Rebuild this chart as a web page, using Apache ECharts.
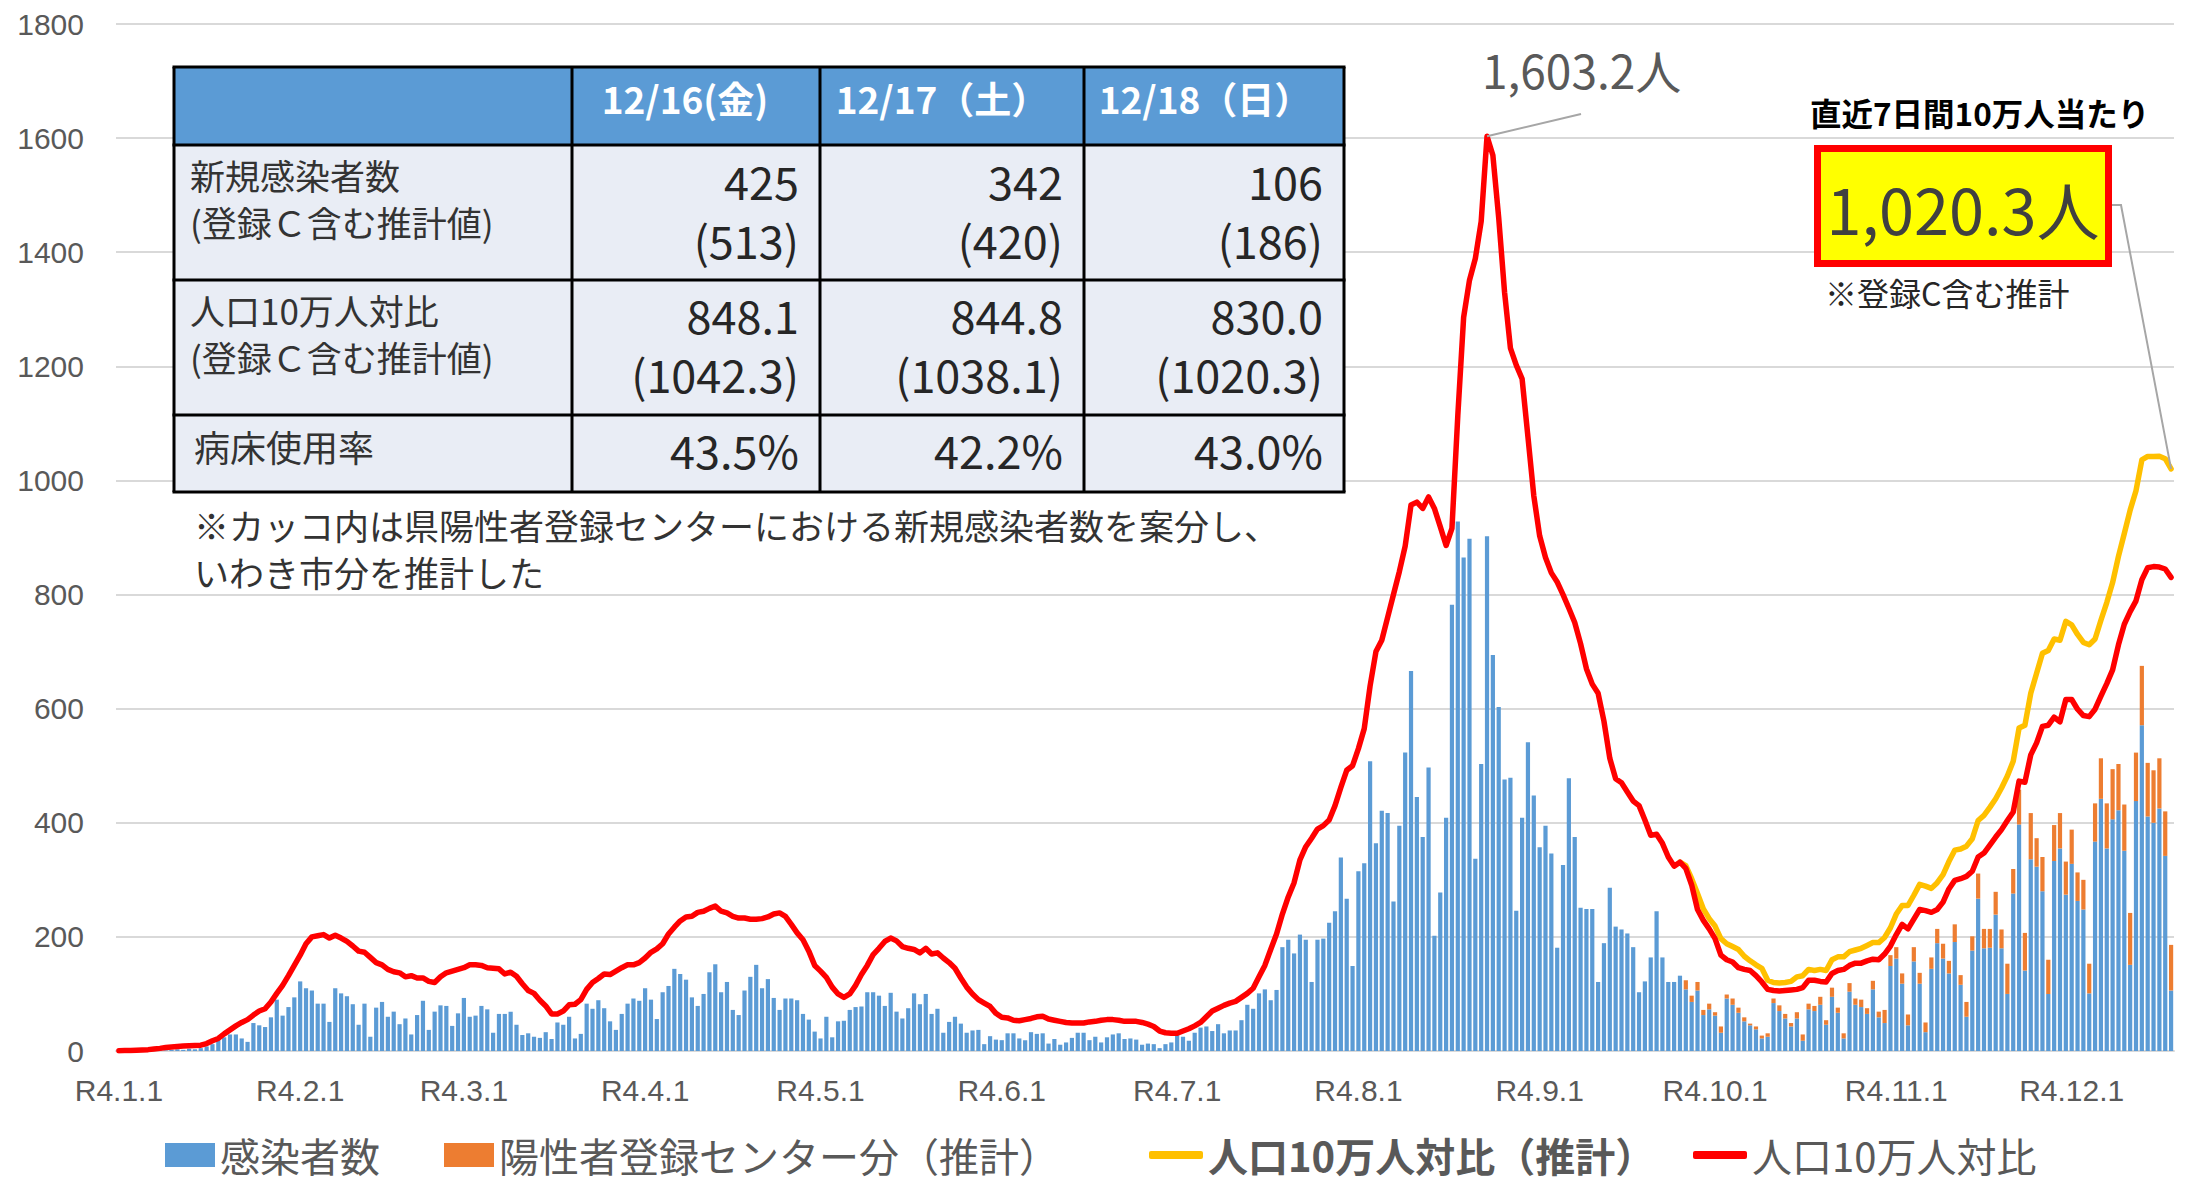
<!DOCTYPE html>
<html>
<head>
<meta charset="utf-8">
<title>いわき市 新規感染者数の推移</title>
<script src="https://cdn.jsdelivr.net/npm/echarts@6/dist/echarts.min.js"></script>
<style>
  html, body { margin: 0; padding: 0; background: #fff; }
  #chart { width: 2188px; height: 1185px; }
</style>
</head>
<body>
<div id="chart"></div>
<script>
// 月ごとの日数 (R4.1.1 〜 R4.12.18)
const monthDays = [31, 28, 31, 30, 31, 30, 31, 31, 30, 31, 30, 18];
// x軸に表示する月初ラベル
const monthLabels = ['R4.1.1', 'R4.2.1', 'R4.3.1', 'R4.4.1', 'R4.5.1', 'R4.6.1',
                     'R4.7.1', 'R4.8.1', 'R4.9.1', 'R4.10.1', 'R4.11.1', 'R4.12.1'];

// 感染者数 (日別・月ごと)
const blueJan = [0,1,0,1,0,1,2,1,1,2,3,2,4,3,5,8,12,19,24,29,29,22,16,49,45,42,59,90,62,77,94];
const blueFeb = [122,110,106,83,83,51,110,101,96,82,46,83,25,76,86,60,69,47,57,29,63,88,37,69,80,79,44,66];
const blueMar = [93,60,62,79,73,32,65,65,69,46,28,31,25,23,33,21,50,46,60,22,30,83,74,89,75,52,37,65,83,92,88];
const blueApr = [110,90,56,103,114,144,135,125,94,79,100,138,152,103,121,72,63,106,130,151,110,126,93,72,92,92,89,65,55,34];
const blueMay = [22,60,24,52,53,72,77,78,103,103,97,79,102,69,57,75,101,82,100,65,74,32,51,60,48,32,36,37,12,26,20];
const blueJun = [19,31,31,22,19,33,30,31,13,21,11,15,23,32,32,19,25,15,24,29,31,21,22,20,11,13,12,5,12,15];
const blueJul = [28,25,18,32,41,43,35,47,31,36,36,54,81,74,101,108,89,107,182,195,171,204,195,121,195,197,225,245,339,267,149];
const blueAug = [315,329,508,364,421,417,262,395,523,666,445,375,497,202,278,409,782,928,865,898,337,503,902,694,603,476,479,246,409,541,448];
const blueSep = [357,395,346,181,326,478,375,251,249,249,121,189,286,218,213,206,182,103,122,164,245,164,121,121,132,108,86,106,63,73];
const blueOct = [62,32,92,81,67,52,45,38,22,25,84,70,57,43,57,18,73,70,81,46,95,67,22,104,81,77,65,108,59,49,149];
const blueNov = [162,118,45,157,118,33,144,189,162,136,191,116,60,176,267,180,181,239,180,100,276,397,141,336,323,280,100,333,355,274];
const blueDec = [328,263,248,101,367,442,355,406,422,351,151,438,571,411,400,425,342,106];

// 陽性者登録センター分（推計） 9/26 から
const orangeSep = [16,11,15,9,10];
const orangeOct = [6,11,7,11,9,7,3,5,5,6,8,10,8,6,11,11,10,9,14,8,16,9,9,15,11,13,10,15,10,23,19];
const orangeNov = [20,18,19,25,19,17,20,25,26,22,31,17,26,25,44,34,33,40,33,53,43,61,66,81,50,60,60,63,62,58];
const orangeDec = [60,50,52,52,67,71,79,88,81,81,91,85,104,94,92,88,78,80];

// 人口10万人対比 (直近7日間)
const redJan = [0.4,0.7,1.0,1.4,1.8,2.4,3.5,4.6,6.0,7.0,8.0,8.8,9.4,9.8,10.2,13,18,22,30,37,44,50,55,63,70,74,86,101,115,132,150];
const redFeb = [168,188,200,202,204,198,203,198,192,184,175,173,164,155,151,143,139,137,130,132,128,128,122,120,130,137,140,143];
const redMar = [146,151,151,150,146,145,144,135,138,131,118,106,101,89,79,65,65,70,81,82,90,108,120,127,135,134,140,146,151,151,155];
const redApr = [163,173,179,188,205,217,228,235,236,243,245,250,254,245,242,236,233,233,231,231,232,235,240,242,236,222,207,195,175,150];
const redMay = [140,129,112,100,94,100,115,134,150,169,180,192,198,193,183,180,178,172,180,170,172,163,155,145,128,112,100,90,84,78,66];
const redJun = [59,58,54,53,55,57,60,61,56,54,52,50,49,49,49,51,52,54,55,55,54,52,52,52,50,47,43,35,32,31];
const redJul = [31,35,39,44,50,60,70,75,80,84,87,94,101,110,130,150,178,205,240,270,295,335,358,373,389,395,405,430,462,492,500];
const redAug = [530,565,640,700,720,760,800,840,885,957,962,951,971,951,919,886,916,1113,1286,1351,1389,1454,1603.2,1570,1460,1330,1232,1202,1178,1076,973];
const redSep = [903,865,838,822,800,776,751,714,670,643,627,578,513,477,470,454,438,430,405,378,380,364,340,324,331,320,291,248,229,214];
const redOct = [197,168,160,156,146,143,141,132,121,108,106,105,106,107,108,111,124,124,122,121,136,141,143,150,154,154,158,161,160,170,184];
const redNov = [204,222,214,231,248,246,243,248,261,284,299,302,306,315,340,347,361,375,388,404,419,473,471,519,540,569,571,585,577,616];
const redDec = [616,599,588,586,599,622,644,668,712,748,770,789,826,847,849,848.1,844.8,830.0];

// 人口10万人対比（推計） 9/25 から
const yellowSep = [331,325,302,276,249,232];
const yellowOct = [219,197,188,183,178,166,158,151,145,124,120,119,120,122,130,132,143,141,143,141,160,165,165,174,177,180,185,190,190,199,216];
const yellowNov = [240,255,255,273,292,289,285,295,309,332,352,354,359,372,404,413,427,442,461,482,508,566,571,627,662,697,702,722,720,753];
const yellowDec = [747,730,716,712,722,755,786,821,867,907,948,982,1036,1042,1042,1042.3,1038.1,1020.3];

// 表の値
const tableDates = ['12/16(金)', '12/17（土）', '12/18（日）'];
const bedRate = [43.5, 42.2, 43.0];

// ---- 系列を組み立て ----
const categories = [];
monthDays.forEach((n, m) => {
  for (let d = 1; d <= n; d++) categories.push(`R4.${m + 1}.${d}`);
});
const N = categories.length;
const padFront = arr => new Array(N - arr.length).fill(null).concat(arr);

const blue = [].concat(blueJan, blueFeb, blueMar, blueApr, blueMay, blueJun,
                       blueJul, blueAug, blueSep, blueOct, blueNov, blueDec);
const red = [].concat(redJan, redFeb, redMar, redApr, redMay, redJun,
                      redJul, redAug, redSep, redOct, redNov, redDec);
const orange = padFront([].concat(orangeSep, orangeOct, orangeNov, orangeDec));
const yellow = padFront([].concat(yellowSep, yellowOct, yellowNov, yellowDec));

const JP = '"Noto Sans CJK JP", "Noto Sans", sans-serif';
const C_BLUE = '#5B9BD5', C_ORANGE = '#ED7D31', C_YELLOW = '#FFC000', C_RED = '#FF0000';

// 凡例は項目ごとに位置を合わせる
const legendBase = {
  top: 1130, itemGap: 0, padding: [5, 5, 0, 5],
  textStyle: { fontSize: 40, lineHeight: 40, color: '#595959', fontFamily: JP }
};
const barKey = { itemWidth: 50, itemHeight: 24, icon: 'rect' };
const lineKey = { itemWidth: 54, itemHeight: 8, icon: 'roundRect' };

const chart = echarts.init(document.getElementById('chart'), null, { renderer: 'svg' });

chart.setOption({
  animation: false,
  backgroundColor: '#fff',
  grid: { left: 116, right: 14, top: 24, bottom: 134, containLabel: false },
  legend: [
    Object.assign({}, legendBase, barKey, { left: 160, data: ['感染者数'] }),
    Object.assign({}, legendBase, barKey, { left: 439, data: ['陽性者登録センター分（推計）'] }),
    Object.assign({}, legendBase, lineKey, { left: 1144, data: [{ name: '人口10万人対比（推計）', textStyle: { fontWeight: 'bold' } }] }),
    Object.assign({}, legendBase, lineKey, { left: 1688, data: ['人口10万人対比'] })
  ],
  xAxis: {
    type: 'category',
    data: categories,
    boundaryGap: true,
    axisLine: { lineStyle: { color: '#D9D9D9', width: 2 } },
    axisTick: { show: false },
    axisLabel: {
      interval: (idx, val) => monthLabels.includes(val),
      color: '#595959', fontSize: 30, fontFamily: '"Liberation Sans", sans-serif',
      margin: 24
    }
  },
  yAxis: {
    type: 'value',
    min: 0, max: 1800, interval: 200,
    axisLine: { show: false },
    axisTick: { show: false },
    axisLabel: {
      formatter: v => String(v),
      color: '#595959', fontSize: 30, fontFamily: '"Liberation Sans", sans-serif', margin: 32
    },
    splitLine: { lineStyle: { color: '#D9D9D9', width: 2 } }
  },
  series: [
    {
      name: '感染者数', type: 'bar', stack: 'cases', data: blue,
      itemStyle: { color: C_BLUE }, barCategoryGap: '28%'
    },
    {
      name: '陽性者登録センター分（推計）', type: 'bar', stack: 'cases', data: orange,
      itemStyle: { color: C_ORANGE }
    },
    {
      name: '人口10万人対比（推計）', type: 'line', data: yellow,
      symbol: 'none', showSymbol: false, connectNulls: false,
      lineStyle: { color: C_YELLOW, width: 5.5, cap: 'round', join: 'round' },
      itemStyle: { color: C_YELLOW }
    },
    {
      name: '人口10万人対比', type: 'line', data: red,
      symbol: 'none', showSymbol: false,
      lineStyle: { color: C_RED, width: 5.5, cap: 'round', join: 'round' },
      itemStyle: { color: C_RED }
    }
  ]
});

// ---- 表と注記 ----
const fmt1 = v => v.toLocaleString('en-US', { minimumFractionDigits: 1, maximumFractionDigits: 1 });
// 2行のテキストは1つの要素にまとめて行間で調整する
const txt = (text, x, y, opt) => {
  const style = Object.assign({
    text, fill: '#333', fontSize: 35, fontFamily: JP,
    textAlign: 'left', align: 'left', textVerticalAlign: 'middle', verticalAlign: 'middle'
  }, opt || {});
  if (!style.lineHeight) style.lineHeight = style.fontSize;
  return { type: 'text', x, y, z: 110, style };
};
const hline = (x1, x2, y) => ({ type: 'line', z: 108, shape: { x1, y1: y, x2, y2: y }, style: { stroke: '#000', lineWidth: 3 } });
const vline = (x, y1, y2) => ({ type: 'line', z: 108, shape: { x1: x, y1, x2: x, y2 }, style: { stroke: '#000', lineWidth: 3 } });

const colX = [174, 572, 820, 1084, 1344];
const rowY = [67, 145, 280, 415, 492];
const headCenter = [685, 942, 1205];
const numRight = [799, 1063, 1323];

const last3 = [N - 3, N - 2, N - 1];
const g = [];
g.push({ type: 'rect', z: 105, shape: { x: colX[0], y: rowY[0], width: colX[4] - colX[0], height: rowY[1] - rowY[0] }, style: { fill: C_BLUE } });
g.push({ type: 'rect', z: 105, shape: { x: colX[0], y: rowY[1], width: colX[4] - colX[0], height: rowY[4] - rowY[1] }, style: { fill: '#E9EDF5' } });
rowY.forEach(y => g.push(hline(colX[0] - 1.5, colX[4] + 1.5, y)));
colX.forEach(x => g.push(vline(x, rowY[0], rowY[4])));

tableDates.forEach((t, i) => g.push(txt(t, headCenter[i], 98, { fill: '#fff', fontWeight: 'bold', fontSize: 37, textAlign: 'center', align: 'center' })));

g.push(txt('新規感染者数\n(登録Ｃ含む推計値)', 190, 198, { lineHeight: 47 }));
g.push(txt('人口10万人対比\n(登録Ｃ含む推計値)', 190, 333, { lineHeight: 47 }));
g.push(txt('病床使用率', 194, 446, { fontSize: 36 }));

const numStyle = { fontSize: 45, lineHeight: 59, textAlign: 'right', align: 'right', fill: '#262626' };
last3.forEach((d, i) => {
  const total = blue[d] + (orange[d] || 0);
  g.push(txt(`${blue[d]}\n(${total})`, numRight[i], 210, numStyle));
  g.push(txt(`${red[d].toFixed(1)}\n(${yellow[d].toFixed(1)})`, numRight[i], 344, numStyle));
  g.push(txt(`${bedRate[i].toFixed(1)}%`, numRight[i], 449, { fontSize: 45, textAlign: 'right', align: 'right', fill: '#262626' }));
});

g.push(txt('※カッコ内は県陽性者登録センターにおける新規感染者数を案分し、\nいわき市分を推計した', 194, 548, { lineHeight: 47 }));

// ピーク注記
let peakIdx = 0;
red.forEach((v, i) => { if (v > red[peakIdx]) peakIdx = i; });
const peakPt = chart.convertToPixel({ gridIndex: 0 }, [peakIdx, red[peakIdx]]);
g.push({ type: 'line', z: 100, shape: { x1: peakPt[0], y1: peakPt[1], x2: 1581, y2: 114 }, style: { stroke: '#A6A6A6', lineWidth: 2 } });
g.push(txt(`${fmt1(red[peakIdx])}人`, 1482, 69, { fontSize: 46, fill: '#595959' }));

// 直近7日間 (推計) ボックス
const endPt = chart.convertToPixel({ gridIndex: 0 }, [N - 1, yellow[N - 1]]);
g.push(txt('直近7日間10万人当たり', 1810, 112, { fontSize: 31.5, fontWeight: 'bold', fill: '#000' }));
g.push({ type: 'polyline', z: 100, shape: { points: [[2112, 205], [2121, 205], endPt] }, style: { stroke: '#A6A6A6', lineWidth: 2, fill: null } });
g.push({ type: 'rect', z: 105, shape: { x: 1817.5, y: 148.5, width: 291, height: 115 }, style: { fill: '#FFFF00', stroke: '#FF0000', lineWidth: 7 } });
g.push(txt(`${fmt1(yellow[N - 1])}人`, 1963, 207, { fontSize: 63, fill: '#404040', textAlign: 'center', align: 'center' }));
g.push(txt('※登録C含む推計', 1825, 292, { fontSize: 32, fill: '#262626' }));

chart.setOption({ graphic: { elements: g } });
</script>
</body>
</html>
